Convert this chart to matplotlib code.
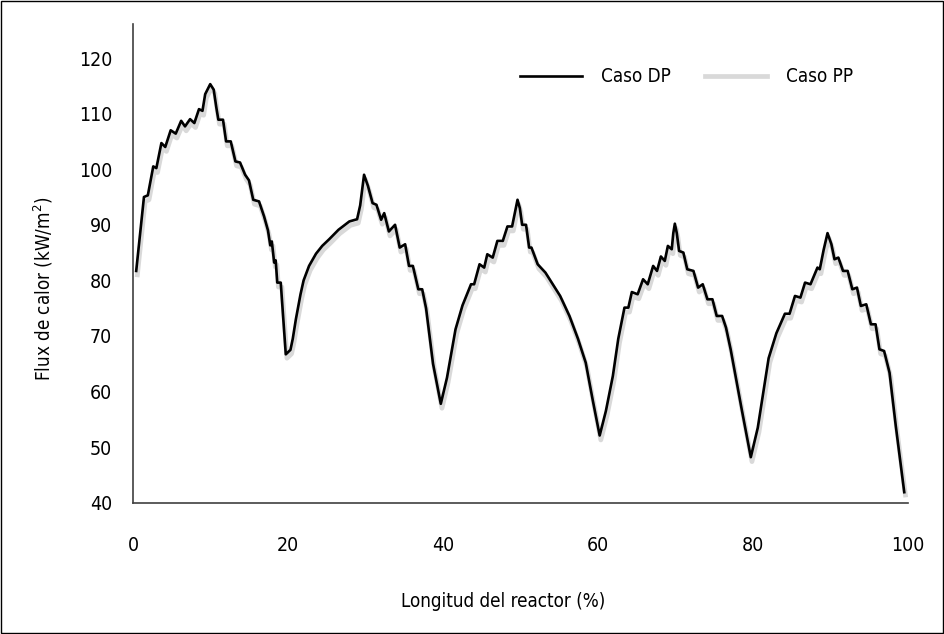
import matplotlib
matplotlib.use('Agg')
import matplotlib.pyplot as plt
from matplotlib.patches import Rectangle

plt.rcParams['font.family'] = ['DejaVu Sans']
plt.rcParams['font.stretch'] = 'condensed'

# datos
longitud = [0.4, 1.4, 1.9, 2.6, 3.0, 3.65, 4.15, 4.85, 5.5, 6.2, 6.7, 7.35, 7.9, 8.5, 8.95,
            9.3, 9.95, 10.4, 10.75, 11.0, 11.6, 12.0, 12.6, 13.2, 13.8, 14.45, 14.95, 15.5,
            16.25, 16.9, 17.4, 17.7, 17.9, 18.2, 18.4, 18.6, 19.05, 19.7, 20.3, 20.6, 21.0,
            21.6, 22.0, 22.7, 23.6, 24.4,
            25.3, 26.5, 27.9, 28.9, 29.3, 29.8, 30.3, 30.9, 31.4, 32.0, 32.4, 33.0, 33.8, 34.4,
            35.1, 35.6, 36.1, 36.8, 37.3, 37.8, 38.7, 39.7, 40.5, 41.6, 42.5, 43.6, 44.0, 44.7,
            45.3, 45.7, 46.4, 47.0, 47.7, 48.3, 48.9, 49.3, 49.6, 49.9, 50.2, 50.7, 51.1,
            51.4, 52.2, 53.2, 55.1, 56.3, 57.4, 58.4, 59.3, 60.2, 61.0, 61.9, 62.6, 63.4, 63.9,
            64.35, 65.1,
            65.8, 66.4, 67.1, 67.6, 68.1, 68.6, 69.0, 69.5, 69.7, 69.9, 70.15, 70.45, 71.0,
            71.5, 72.3, 72.9, 73.5, 74.1, 74.75, 75.3, 76.0, 76.5, 77.1, 78.5, 79.7, 80.6,
            82.0, 83.0, 84.1, 84.7, 85.4, 86.1, 86.7, 87.4, 88.3, 88.6, 89.1, 89.6, 90.1, 90.5,
            91.0, 91.6, 92.2, 92.8, 93.4, 93.9, 94.6, 95.2, 95.8, 96.3, 96.9, 97.6, 98.4, 99.5]

flux_dp = [81.7, 95.0, 95.3, 100.5, 100.2, 104.7, 104.0, 107.0, 106.4, 108.7, 107.7, 109.0,
           108.3, 110.8, 110.5,
           113.5, 115.3, 114.3, 111.0, 108.9, 108.9, 105.0, 105.0, 101.4, 101.2, 99.0, 98.0, 94.5,
           94.2, 91.5, 89.0, 86.3, 87.0, 83.2, 83.6, 79.6, 79.6, 66.7, 67.5, 69.5, 73.0, 77.5,
           80.0, 82.6, 84.8, 86.2,
           87.4, 89.1, 90.6, 91.0, 93.5, 99.0, 97.0, 93.9, 93.6, 90.9, 92.1, 88.8, 90.0, 85.9,
           86.5, 82.6, 82.6, 78.4, 78.4, 75.0, 65.0, 57.8, 62.5, 71.2, 75.5, 79.3, 79.3, 82.9,
           82.3, 84.7, 84.1, 87.1, 87.1, 89.7, 89.7, 92.5, 94.5, 93.0, 90.0, 90.0, 85.9,
           85.9, 82.9, 81.4, 77.2, 73.6, 69.5, 65.2, 58.5, 52.1, 56.5, 62.8, 69.5, 75.1, 75.1,
           77.9, 77.5,
           80.2, 79.3, 82.6, 81.7, 84.3, 83.5, 86.2, 85.6, 88.5, 90.2, 88.5, 85.3, 85.0,
           82.0, 81.7, 78.7, 79.3, 76.6, 76.6, 73.6, 73.6, 71.5, 67.6, 57.0, 48.2, 53.5,
           66.0, 70.5, 74.0, 74.0, 77.2, 76.9, 79.6, 79.3, 82.3, 82.0, 85.5, 88.5, 86.5, 83.8,
           84.1, 81.7, 81.7, 78.4, 78.7, 75.4, 75.7, 72.1, 72.1, 67.6, 67.3, 63.4, 53.9, 41.9]

flux_pp = [81.0, 94.2, 94.5, 99.7, 99.4, 103.9, 103.2, 106.2, 105.6, 107.9, 106.9, 108.2,
           107.5, 110.0, 109.7,
           112.8, 114.6, 113.6, 110.2, 108.1, 108.1, 104.2, 104.2, 100.6, 100.4, 98.2, 97.2, 93.7,
           93.4, 90.7, 88.2, 85.5, 86.2, 82.4, 82.8, 78.8, 78.8, 66.0, 66.8, 68.8, 72.2, 76.7,
           79.2, 81.8, 84.0, 85.5,
           86.7, 88.4, 89.9, 90.3, 92.8, 98.2, 96.2, 93.1, 92.8, 90.1, 91.3, 88.0, 89.2, 85.1,
           85.7, 81.8, 81.8, 77.6, 77.6, 74.2, 64.3, 57.0, 61.7, 70.4, 74.7, 78.5, 78.5, 82.1,
           81.5, 83.9, 83.3, 86.3, 86.3, 88.9, 88.9, 91.7, 93.7, 92.2, 89.2, 89.2, 85.1,
           85.1, 82.1, 80.6, 76.4, 72.8, 68.7, 64.4, 57.7, 51.3, 55.7, 62.0, 68.7, 74.3, 74.3,
           77.1, 76.7,
           79.4, 78.5, 81.8, 80.9, 83.5, 82.7, 85.4, 84.8, 87.7, 89.4, 87.7, 84.5, 84.2,
           81.2, 80.9, 77.9, 78.5, 75.8, 75.8, 72.8, 72.8, 70.7, 66.8, 56.2, 47.4, 52.7,
           65.2, 69.7, 73.2, 73.2, 76.4, 76.1, 78.8, 78.5, 81.5, 81.2, 84.7, 87.7, 85.7, 83.0,
           83.3, 80.9, 80.9, 77.6, 77.9, 74.6, 74.9, 71.3, 71.3, 66.8, 66.5, 62.6, 53.1, 41.4]

x_ticks = [0, 20, 40, 60, 80, 100]
y_ticks = [40, 50, 60, 70, 80, 90, 100, 110, 120]

fig = plt.figure(figsize=(9.44, 6.34), dpi=100)
ax = fig.add_axes([0.141, 0.207, 0.821, 0.755])

# Caso PP va debajo, mas grueso y gris
ax.plot([x + 0.15 for x in longitud], flux_pp, color='#d9d9d9', lw=3.4,
        solid_joinstyle='round', label='Caso PP', zorder=2)
ax.plot(longitud, flux_dp, color='black', lw=1.9,
        solid_joinstyle='round', label='Caso DP', zorder=3)

ax.set_xlim(0, 100)
ax.set_ylim(40, 126.1)
ax.set_xticks(x_ticks)
ax.set_yticks(y_ticks)
ax.tick_params(axis='both', length=0, labelsize=14)
ax.tick_params(axis='y', pad=15)
ax.tick_params(axis='x', pad=24)

for s in ['top', 'right']:
    ax.spines[s].set_visible(False)
for s in ['left', 'bottom']:
    ax.spines[s].set_color('#404040')
    ax.spines[s].set_linewidth(1.2)

ax.set_xlabel('Longitud del reactor (%)', fontsize=13.5)
ax.set_ylabel('Flux de calor (kW/m$^2$)', fontsize=13.5)
ax.xaxis.set_label_coords(0.477, -0.186)
ax.yaxis.set_label_coords(-0.101, 0.447)

handles, labels = ax.get_legend_handles_labels()
ax.legend(handles[::-1], labels[::-1], ncol=2, frameon=False, fontsize=13.5,
          loc='center', bbox_to_anchor=(0.714, 0.89),
          handlelength=3.3, handletextpad=1.0, columnspacing=1.85)

# marco alrededor de toda la figura
fig.patches.append(Rectangle((0.001, 0.002), 0.998, 0.996, transform=fig.transFigure,
                             fill=False, edgecolor='black', lw=1))

fig.savefig('out.png', dpi=100)
